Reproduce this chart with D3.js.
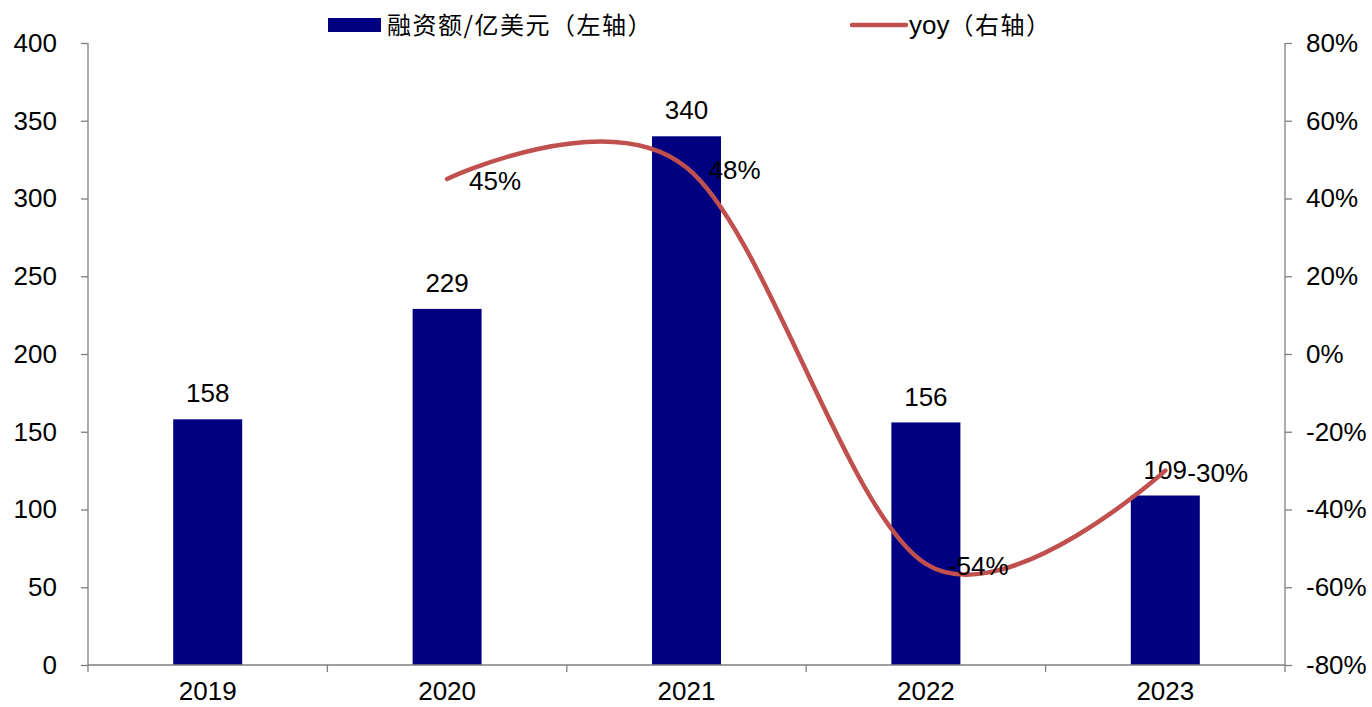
<!DOCTYPE html>
<html>
<head>
<meta charset="utf-8">
<script src="https://cdn.jsdelivr.net/npm/d3@7"></script>
<style>
  html, body { margin: 0; padding: 0; background: #fff; }
  svg { display: block; }
  text { font-family: "Liberation Sans", Arial, sans-serif; fill: #000; }
  .cjk { font-family: "Noto Sans CJK SC", sans-serif; }
</style>
</head>
<body>
<svg id="chart" width="1372" height="707"></svg>
<script>
// Annual financing (100M USD) and year-over-year growth
const years = ["2019", "2020", "2021", "2022", "2023"];
const amounts = [158, 229, 340, 156, 109];
const yoyYears = ["2020", "2021", "2022", "2023"];
const yoyValues = [0.45, 0.48, -0.54, -0.30];
const leftTicks = [0, 50, 100, 150, 200, 250, 300, 350, 400];
const rightTicks = [-0.8, -0.6, -0.4, -0.2, 0, 0.2, 0.4, 0.6, 0.8];
const legendBar = "融资额/亿美元（左轴）";
const legendLine = "yoy（右轴）";

const svg = d3.select("#chart");
const plotL = 88, plotR = 1285, plotT = 43, plotB = 665;
const axisColor = "#7f7f7f";
const barColor = "#000080";
const lineColor = "#C0504D";
const fontSize = 26;

// percent format with a plain hyphen for negatives
const pct = v => d3.format(".0%")(v).replace("\u2212", "-");

const x = d3.scaleBand().domain(years).range([plotL, plotR]).paddingInner(0).paddingOuter(0);
const yL = d3.scaleLinear().domain([0, 400]).range([plotB, plotT]);
const yR = d3.scaleLinear().domain([-0.8, 0.8]).range([plotB, plotT]);
const barW = 69;

// Bars
svg.append("g").selectAll("rect")
  .data(years.map((y, i) => ({ year: y, v: amounts[i] })))
  .join("rect")
  .attr("x", d => x(d.year) + x.bandwidth() / 2 - barW / 2)
  .attr("y", d => yL(d.v))
  .attr("width", barW)
  .attr("height", d => yL(0) - yL(d.v))
  .attr("fill", barColor);

// Left axis
const gL = svg.append("g").attr("transform", `translate(${plotL},0)`)
  .call(d3.axisLeft(yL).tickValues(leftTicks).tickSize(7).tickPadding(24).tickFormat(d3.format("d")));
// Right axis
const gR = svg.append("g").attr("transform", `translate(${plotR},0)`)
  .call(d3.axisRight(yR).tickValues(rightTicks).tickSize(7).tickPadding(14).tickFormat(pct));
// Bottom axis: ticks at category boundaries
const gB = svg.append("g").attr("transform", `translate(0,${plotB})`)
  .call(d3.axisBottom(x).tickSize(0).tickPadding(18));
gB.selectAll(".boundary")
  .data(d3.range(years.length + 1))
  .join("line")
  .attr("class", "boundary")
  .attr("x1", i => plotL + i * x.bandwidth())
  .attr("x2", i => plotL + i * x.bandwidth())
  .attr("y1", 0).attr("y2", 7)
  .attr("stroke", axisColor).attr("stroke-width", 1.3);

[gL, gR, gB].forEach(g => {
  g.select(".domain").attr("stroke", axisColor).attr("stroke-width", 1.3);
  g.selectAll(".tick line").attr("stroke", axisColor).attr("stroke-width", 1.3);
  g.selectAll(".tick text")
    .style("font-family", '"Liberation Sans", Arial, sans-serif')
    .style("font-size", fontSize + "px")
    .attr("fill", "#000");
});
gL.select(".domain").attr("d", `M0,${plotT}V${plotB}`);
gR.select(".domain").attr("d", `M0,${plotT}V${plotB}`);
gB.select(".domain").attr("d", `M${plotL},0H${plotR}`);
gB.selectAll(".tick text").attr("dy", "0.66em");

// Bar value labels
svg.append("g").selectAll("text")
  .data(years.map((y, i) => ({ year: y, v: amounts[i] })))
  .join("text")
  .attr("x", d => x(d.year) + x.bandwidth() / 2)
  .attr("y", d => yL(d.v) - 26)
  .attr("dy", "0.35em")
  .attr("text-anchor", "middle")
  .style("font-size", fontSize + "px")
  .text(d => d.v);

// YoY smooth line
const pts = yoyYears.map((y, i) => [x(y) + x.bandwidth() / 2, yR(yoyValues[i])]);
svg.append("path")
  .attr("d", d3.line().curve(d3.curveCardinal.tension(0))(pts))
  .attr("fill", "none")
  .attr("stroke", lineColor)
  .attr("stroke-width", 4.5)
  .attr("stroke-linecap", "round");

// YoY labels, placed to the right of each point
svg.append("g").selectAll("text")
  .data(yoyYears.map((y, i) => ({ year: y, v: yoyValues[i] })))
  .join("text")
  .attr("x", d => x(d.year) + x.bandwidth() / 2 + 22)
  .attr("y", d => yR(d.v) + 2)
  .attr("dy", "0.35em")
  .attr("text-anchor", "start")
  .style("font-size", fontSize + "px")
  .text(d => pct(d.v));

// Legend
const lg = svg.append("g");
lg.append("rect").attr("x", 328).attr("y", 18).attr("width", 53).attr("height", 14).attr("fill", barColor);
lg.append("text").attr("class", "cjk").attr("x", 387).attr("y", 25).attr("dy", "0.36em")
  .style("font-size", "24px").style("letter-spacing", "1.5px").text(legendBar);
lg.append("line").attr("x1", 852).attr("x2", 906).attr("y1", 25).attr("y2", 25)
  .attr("stroke", lineColor).attr("stroke-width", 4.5).attr("stroke-linecap", "round");
lg.append("text").attr("x", 909).attr("y", 25).attr("dy", "0.36em")
  .style("font-size", "24px")
  .call(t => {
    t.append("tspan").style("font-size", "26px").text(legendLine.slice(0, 3));
    t.append("tspan").style("font-family", '"Noto Sans CJK SC", sans-serif')
      .style("letter-spacing", "1.5px").text(legendLine.slice(3));
  });
</script>
</body>
</html>
